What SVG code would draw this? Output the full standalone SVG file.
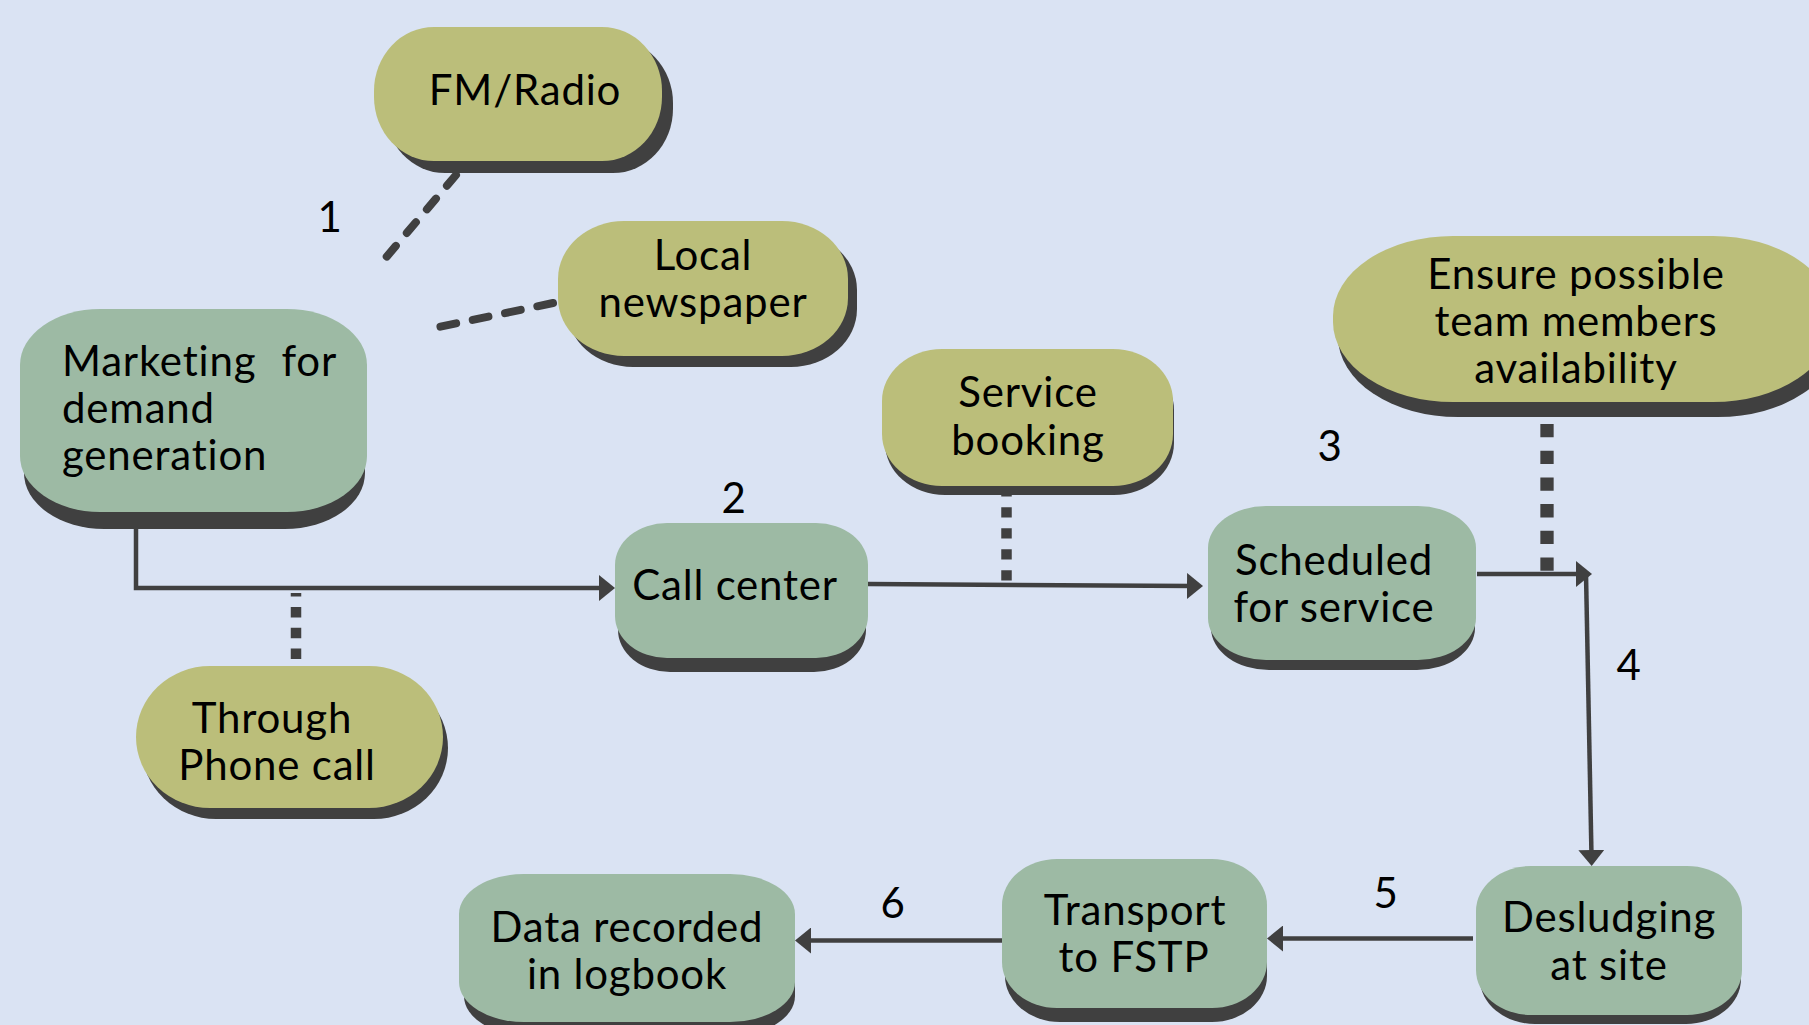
<svg xmlns="http://www.w3.org/2000/svg" width="1809" height="1025" viewBox="0 0 1809 1025">
  <defs>
    <style>
      .bg { fill: #DAE3F3; }
      .olive { fill: #BBBE7A; }
      .green { fill: #9DBAA4; }
      .shadow { fill: #404040; }
      .lbl { font-family: Lato, "Liberation Sans", sans-serif; font-size: 42px; letter-spacing: 0.8px; fill: #000; }
      .mid { text-anchor: middle; }
      .flow { fill: none; stroke: #404040; stroke-width: 4.5; stroke-linejoin: miter; }
      .dash { fill: none; stroke: #404040; stroke-width: 8; stroke-linecap: round; stroke-dasharray: 14 17; }
      .dots { fill: none; stroke: #404040; stroke-linecap: butt; }
    </style>
    <marker id="arrow" viewBox="0 0 16 26" markerWidth="16" markerHeight="26" refX="6" refY="13" orient="auto" markerUnits="userSpaceOnUse">
      <path d="M0,0 L16,13 L0,26 Z" fill="#404040"/>
    </marker>
  </defs>

  <rect class="bg" x="0" y="0" width="1809" height="1025"/>

  <!-- connectors -->
  <g id="connectors">
    <path class="dash" d="M456,175 L383,261"/>
    <path class="dash" style="stroke-dasharray:16 17" d="M553,303 L439,327"/>
    <path class="flow" d="M136,529 V588 H605" marker-end="url(#arrow)"/>
    <path class="dots" stroke-width="10.5" stroke-dasharray="10.5 10.3" d="M296,659 V593"/>
    <path class="flow" d="M868,584 L1193,586" marker-end="url(#arrow)"/>
    <path class="dots" stroke-width="10.5" stroke-dasharray="10.3 10.7" d="M1006.5,580.5 V494"/>
    <path class="dots" stroke-width="13.3" stroke-dasharray="13.3 13.4" d="M1547,424 V571"/>
    <path class="flow" d="M1477,574 H1582" marker-end="url(#arrow)"/>
    <path class="flow" d="M1586,574 L1591.5,856" marker-end="url(#arrow)"/>
    <path class="flow" d="M1473,938.5 H1277" marker-end="url(#arrow)"/>
    <path class="flow" d="M1002,940.5 H805" marker-end="url(#arrow)"/>
  </g>

  <!-- step numbers -->
  <g id="step-numbers">
    <text class="lbl mid" x="330" y="232">1</text>
    <text class="lbl mid" x="734" y="513">2</text>
    <text class="lbl mid" x="1330" y="461">3</text>
    <text class="lbl mid" x="1629" y="680">4</text>
    <text class="lbl mid" x="1386" y="908">5</text>
    <text class="lbl mid" x="893" y="918">6</text>
  </g>

  <g id="fm-radio">
    <rect class="shadow" x="385" y="39" width="288" height="134" rx="60" ry="64"/>
    <rect class="olive" x="374" y="27" width="288" height="134" rx="60" ry="64"/>
    <text class="lbl mid" x="525" y="105">FM/Radio</text>
  </g>

  <g id="local-newspaper">
    <rect class="shadow" x="567" y="232" width="290" height="135" rx="66" ry="58"/>
    <rect class="olive" x="558" y="221" width="290" height="135" rx="66" ry="58"/>
    <text class="lbl mid" x="703" y="270">Local</text>
    <text class="lbl mid" x="703" y="317">newspaper</text>
  </g>

  <g id="marketing">
    <rect class="shadow" x="24" y="326" width="341" height="203" rx="80" ry="56"/>
    <rect class="green" x="20" y="309" width="347" height="203" rx="80" ry="56"/>
    <text class="lbl" x="62" y="376">Marketing</text>
    <text class="lbl" x="337" y="376" text-anchor="end">for</text>
    <text class="lbl" x="62" y="423">demand</text>
    <text class="lbl" x="62" y="470">generation</text>
  </g>

  <g id="through-phone-call">
    <rect class="shadow" x="142" y="677" width="306" height="142" rx="74" ry="71"/>
    <rect class="olive" x="136" y="666" width="307" height="142" rx="74" ry="71"/>
    <text class="lbl mid" x="272" y="733">Through</text>
    <text class="lbl mid" x="277" y="780">Phone call</text>
  </g>

  <g id="call-center">
    <rect class="shadow" x="618" y="537" width="248" height="135" rx="52" ry="42"/>
    <rect class="green" x="615" y="523" width="253" height="135" rx="52" ry="42"/>
    <text class="lbl mid" x="735" y="600">Call center</text>
  </g>

  <g id="service-booking">
    <rect class="shadow" x="885" y="358" width="289" height="137" rx="60" ry="52"/>
    <rect class="olive" x="882" y="349" width="291" height="137" rx="60" ry="52"/>
    <text class="lbl mid" x="1028" y="407">Service</text>
    <text class="lbl mid" x="1028" y="455">booking</text>
  </g>

  <g id="team-availability">
    <rect class="shadow" x="1338" y="251" width="500" height="166" rx="120" ry="80"/>
    <rect class="olive" x="1333" y="236" width="500" height="166" rx="120" ry="80"/>
    <text class="lbl mid" x="1576" y="289">Ensure possible</text>
    <text class="lbl mid" x="1576" y="336">team members</text>
    <text class="lbl mid" x="1576" y="383">availability</text>
  </g>

  <g id="scheduled">
    <rect class="shadow" x="1211" y="516" width="264" height="154" rx="58" ry="42"/>
    <rect class="green" x="1208" y="506" width="268" height="154" rx="58" ry="42"/>
    <text class="lbl mid" x="1334" y="575">Scheduled</text>
    <text class="lbl mid" x="1334" y="622">for service</text>
  </g>

  <g id="desludging">
    <rect class="shadow" x="1480" y="875" width="261" height="149" rx="55" ry="45"/>
    <rect class="green" x="1476" y="866" width="266" height="149" rx="55" ry="45"/>
    <text class="lbl mid" x="1609" y="932">Desludging</text>
    <text class="lbl mid" x="1609" y="980">at site</text>
  </g>

  <g id="transport">
    <rect class="shadow" x="1005" y="873" width="262" height="149" rx="55" ry="46"/>
    <rect class="green" x="1002" y="859" width="265" height="149" rx="55" ry="46"/>
    <text class="lbl mid" x="1135" y="925">Transport</text>
    <text class="lbl mid" x="1134" y="972">to FSTP</text>
  </g>

  <g id="data-recorded">
    <rect class="shadow" x="464" y="888" width="331" height="148" rx="65" ry="40"/>
    <rect class="green" x="459" y="874" width="336" height="148" rx="65" ry="40"/>
    <text class="lbl mid" x="627" y="942">Data recorded</text>
    <text class="lbl mid" x="627" y="989">in logbook</text>
  </g>
</svg>
